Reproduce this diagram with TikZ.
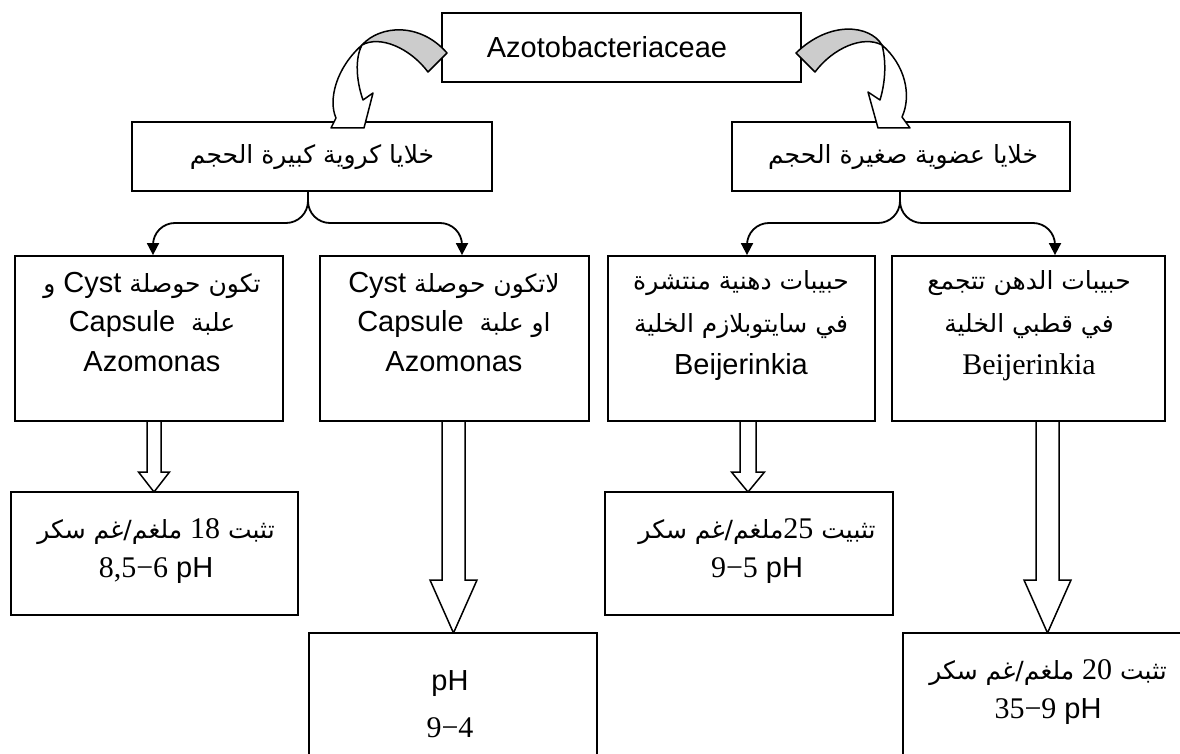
\documentclass[tikz,border=0pt]{standalone}
\usepackage{fontspec}
\setmainfont{Liberation Serif}
\newfontfamily\ar[Script=Arabic]{DejaVu Sans}
\newfontfamily\lsans{Liberation Sans}
\newfontfamily\lserif{Liberation Serif}
\TeXXeTstate=1
\usetikzlibrary{arrows.meta}
\definecolor{ribbongray}{RGB}{204,204,204}
% Latin runs: sans (Arial-like) and serif (Times-like)
\newcommand\Ls[1]{\beginL{\lsans\fontsize{29}{39.5}\selectfont #1}\endL}
\newcommand\Lr[1]{\beginL{\lserif\fontsize{30}{39.5}\selectfont #1}\endL}
% hollow block arrow: x, top, head base, tip, half shaft, half head
\newcommand\hollowarrow[6]{%
  \filldraw[harrow] (#1-#5,#2) -- (#1-#5,#3) -- (#1-#6,#3) -- (#1,#4)
    -- (#1+#6,#3) -- (#1+#5,#3) -- (#1+#5,#2);}
\begin{document}
\begin{tikzpicture}[x=1pt,y=-1pt,
  box/.style={draw, line width=1.8pt, inner sep=0pt, fill=white},
  txt/.style={align=center, inner sep=0pt, font=\fontsize{25}{39.5}\selectfont\ar},
  widetxt/.style={txt, font=\fontsize{25}{42.5}\selectfont\ar},
  conn/.style={line width=1.8pt, rounded corners=22pt,
    -{Triangle[length=12pt,width=12pt]}},
  harrow/.style={fill=white, line width=1.5pt, line join=miter},
  ribbon/.style={draw, line width=1.5pt, line join=round},
]
\useasboundingbox (0,0) rectangle (1180,754);
\clip (0,0) rectangle (1180,754);

% hollow arrows between the lower rows
\hollowarrow{154}{422}{472}{492}{7}{15.5}
\hollowarrow{453.5}{422}{580}{633}{11.5}{23.5}
\hollowarrow{748}{422}{472}{492}{8}{16.5}
\hollowarrow{1047.5}{422}{580}{633}{11.5}{23.5}

% boxes
\node[box, minimum width=359pt, minimum height=69pt] (top) at (621.5,47.5) {};
\node[box, minimum width=360pt, minimum height=69pt] (A) at (312,156.5) {};
\node[box, minimum width=338pt, minimum height=69pt] (B) at (901,156.5) {};
\node[box, minimum width=268pt, minimum height=165pt] (b1) at (149,338.5) {};
\node[box, minimum width=269pt, minimum height=165pt] (b2) at (454.5,338.5) {};
\node[box, minimum width=267pt, minimum height=165pt] (b3) at (741.5,338.5) {};
\node[box, minimum width=273pt, minimum height=165pt] (b4) at (1028.5,338.5) {};
\node[box, minimum width=287pt, minimum height=123pt] (b5) at (154.5,553.5) {};
\node[box, minimum width=288pt, minimum height=147pt] (b6) at (453,706.5) {};
\node[box, minimum width=288pt, minimum height=123pt] (b7) at (749,553.5) {};
\node[box, minimum width=288pt, minimum height=147pt] (b8) at (1047,706.5) {};

% texts
\node[txt] (topt) at (607,47.5) {\Ls{Azotobacteriaceae}};
\node[txt] (At) at (312,157) {\beginR خلايا كروية كبيرة الحجم\endR};
\node[txt] (Bt) at (903,157) {\beginR خلايا عضوية صغيرة الحجم\endR};
\node[txt] (b1t) at (152,322) {\beginR تكون حوصلة \Ls{Cyst} و\endR\\
  \beginR علبة\ \ \Ls{Capsule}\endR\\ \Ls{Azomonas}};
\node[txt] (b2t) at (454,322) {\beginR لاتكون حوصلة \Ls{Cyst}\endR\\
  \beginR او علبة\ \ \Ls{Capsule}\endR\\ \Ls{Azomonas}};
\node[widetxt] (b3t) at (741,326) {\beginR حبيبات دهنية منتشرة\endR\\
  \beginR في سايتوبلازم الخلية\endR\\ \Ls{Beijerinkia}};
\node[widetxt] (b4t) at (1029,326) {\beginR حبيبات الدهن تتجمع\endR\\
  \beginR في قطبي الخلية\endR\\ \Lr{Beijerinkia}};
\node[txt] (b5t) at (156,551) {\beginR تثبت \Lr{18} ملغم/غم سكر\endR\\
  \Lr{8,5−6} \Ls{pH}};
\node[txt] (b6t) at (450,704) {\Ls{pH}\\[8pt] \Lr{9−4}};
\node[txt] (b7t) at (757,551) {\beginR تثبيت \Lr{25}ملغم/غم سكر\endR\\
  \Lr{9−5} \Ls{pH}};
\node[txt] (b8t) at (1048,692) {\beginR تثبت \Lr{20} ملغم/غم سكر\endR\\
  \Lr{35−9} \Ls{pH}};

% branching connectors
\coordinate (hA) at (0,223);
\draw[conn] ([xshift=-4pt]A.south) -- ([xshift=-4pt]A.south |- hA)
  -- ([xshift=4pt]b1.north |- hA) -- ([xshift=4pt]b1.north);
\draw[conn] ([xshift=-4pt]A.south) -- ([xshift=-4pt]A.south |- hA)
  -- ([xshift=7.5pt]b2.north |- hA) -- ([xshift=7.5pt]b2.north);
\draw[conn] ([xshift=-1pt]B.south) -- ([xshift=-1pt]B.south |- hA)
  -- ([xshift=5.5pt]b3.north |- hA) -- ([xshift=5.5pt]b3.north);
\draw[conn] ([xshift=-1pt]B.south) -- ([xshift=-1pt]B.south |- hA)
  -- ([xshift=26.5pt]b4.north |- hA) -- ([xshift=26.5pt]b4.north);

% twisted ribbon arrows from the top box
\filldraw[ribbon, fill=ribbongray] (447,53) .. controls (420,22) and (380,25) .. (362,45)
  .. controls (380,35) and (410,48) .. (428,72) -- cycle;
\filldraw[ribbon, fill=white] (362,45) .. controls (336,68) and (328,100) .. (336,118)
  -- (331,128) -- (364,128) -- (373,93) -- (363,100)
  .. controls (356,80) and (355,58) .. (362,45) -- cycle;
\filldraw[ribbon, fill=ribbongray] (796,53) .. controls (830,20) and (870,25) .. (882,45)
  .. controls (863,35) and (833,48) .. (815,72) -- cycle;
\filldraw[ribbon, fill=white] (882,45) .. controls (905,65) and (912,95) .. (902,117)
  -- (910,128) -- (878,128) -- (868,92) -- (880,100)
  .. controls (886,80) and (886,60) .. (882,45) -- cycle;
\end{tikzpicture}
\end{document}
